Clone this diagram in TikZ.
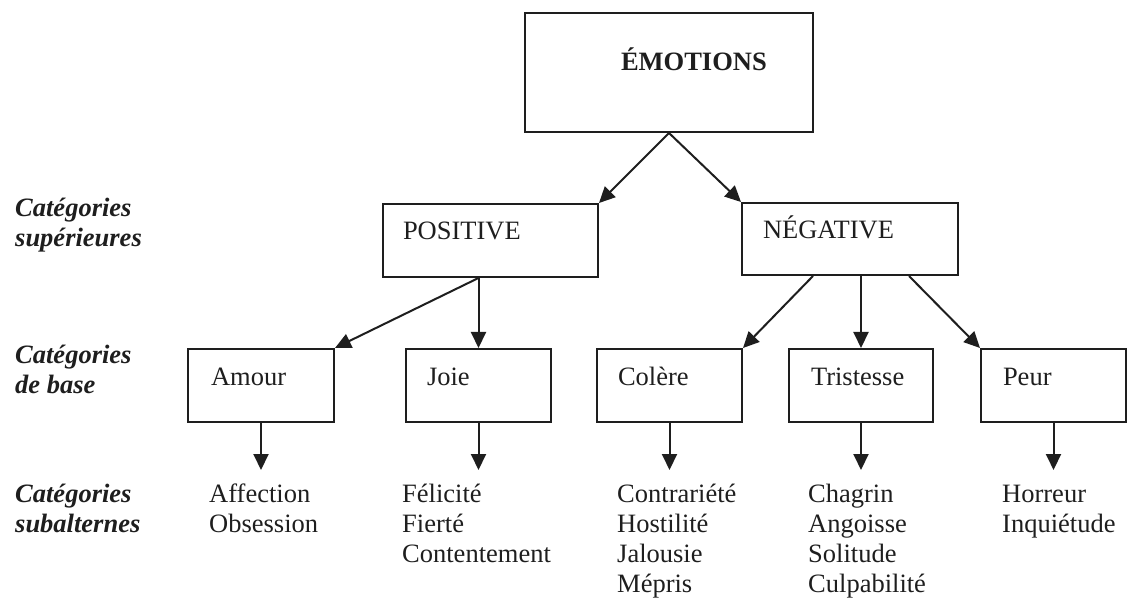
\documentclass[tikz,border=0pt]{standalone}
\usepackage{fontspec}
\setmainfont{Liberation Serif}
\usetikzlibrary{arrows.meta}
\definecolor{ink}{HTML}{1E1E1E}
\begin{document}
\begin{tikzpicture}[x=1pt,y=-1pt,
  every node/.style={font=\fontsize{26.5}{30}\selectfont, text=ink},
  boxed/.style={draw=ink, line width=2pt, anchor=north west, inner ysep=0pt, align=left},
  basebox/.style={boxed, text height=36pt, text depth=37pt},
  arr/.style={draw=ink, line width=2pt, -{Triangle[length=16pt,width=15pt]}},
  sub/.style={anchor=base west, inner sep=0pt},
  lbl/.style={anchor=base west, inner sep=0pt, font=\fontsize{26.5}{30}\selectfont\bfseries\itshape}]
\useasboundingbox (0,0) rectangle (1129,601);

% top
\node[boxed, inner xsep=0pt, text width=288pt, text height=58pt, text depth=61pt] (emo) at (524,12) {\hspace*{96pt}\textbf{ÉMOTIONS}};

% superior
\node[boxed, inner xsep=20pt, text width=175pt, text height=36pt, text depth=37pt] (pos) at (382,203) {POSITIVE};
\node[boxed, inner xsep=21pt, text width=174pt, text height=36pt, text depth=36pt] (neg) at (741,202) {NÉGATIVE};

% base
\node[basebox, inner xsep=23pt, text width=100pt] (amour) at (187,348) {Amour};
\node[basebox, inner xsep=21pt, text width=103pt] (joie) at (405,348) {Joie};
\node[basebox, inner xsep=21pt, text width=103pt] (colere) at (596,348) {Colère};
\node[basebox, inner xsep=22pt, text width=100pt] (tris) at (788,348) {Tristesse};
\node[basebox, inner xsep=22pt, text width=101pt] (peur) at (980,348) {Peur};

% subordinate
\node[sub] (affect) at (209,502) {\vtop{\hbox{Affection}\hbox{Obsession}}};
\node[sub] (felic) at (402,502) {\vtop{\hbox{Félicité}\hbox{Fierté}\hbox{Contentement}}};
\node[sub] (contr) at (617,502) {\vtop{\hbox{Contrariété}\hbox{Hostilité}\hbox{Jalousie}\hbox{Mépris}}};
\node[sub] (chag) at (808,502) {\vtop{\hbox{Chagrin}\hbox{Angoisse}\hbox{Solitude}\hbox{Culpabilité}}};
\node[sub] (horr) at (1002,502) {\vtop{\hbox{Horreur}\hbox{Inquiétude}}};

% left labels
\node[lbl] (lsup) at (15,217) {\vtop{\hbox{Catégories}\hbox{supérieures}}};
\node[lbl] (lbase) at (15,363) {\vtop{\hbox{Catégories}\hbox{de base}}};
\node[lbl] (lsub) at (15,502) {\vtop{\hbox{Catégories}\hbox{subalternes}}};

% tips of lower arrows (straight below each box)
\path (amour.south) ++(0,47) coordinate (tA);
\path (joie.south) ++(0,47) coordinate (tJ);
\path (colere.south) ++(0,47) coordinate (tC);
\path (tris.south) ++(0,47) coordinate (tT);
\path (peur.south) ++(0,47) coordinate (tP);

% connectors
\draw[arr] (emo.south) -- (pos.north east);
\draw[arr] (emo.south) -- (neg.north west);
\draw[arr] (pos.south -| joie.north) -- (amour.north east);
\draw[arr] (pos.south -| joie.north) -- (joie.north);
\draw[arr] ([xshift=-37pt]neg.south) -- (colere.north east);
\draw[arr] (neg.south -| tris.north) -- (tris.north);
\draw[arr] ([xshift=59pt]neg.south) -- (peur.north west);

\draw[arr] (amour.south) -- (tA);
\draw[arr] (joie.south) -- (tJ);
\draw[arr] (colere.south) -- (tC);
\draw[arr] (tris.south) -- (tT);
\draw[arr] (peur.south) -- (tP);
\end{tikzpicture}
\end{document}
